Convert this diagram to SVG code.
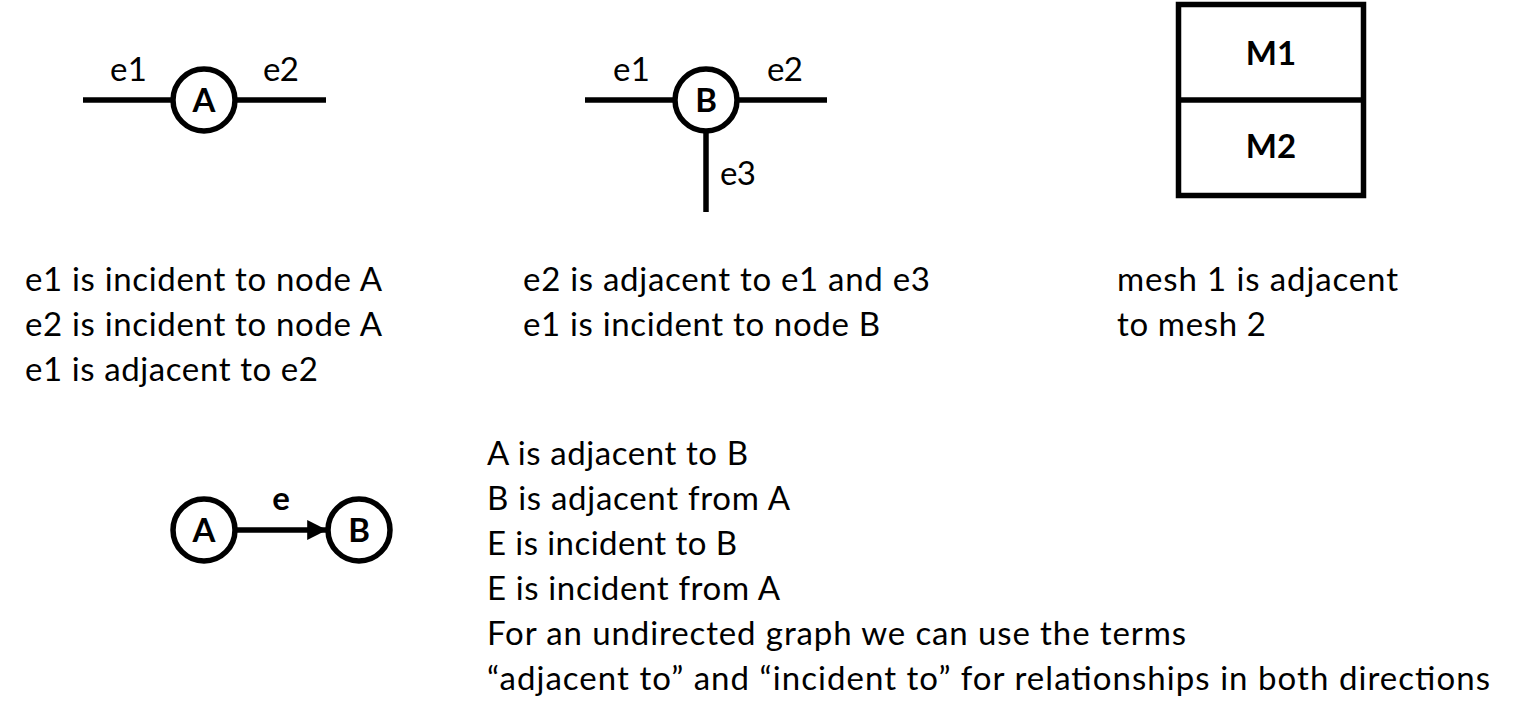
<svg xmlns="http://www.w3.org/2000/svg" width="1516" height="723" viewBox="0 0 1516 723">
<defs>
<style>
.edge{stroke:#000;stroke-width:5.5;fill:none}
.node{fill:#fff;stroke:#000;stroke-width:5.5}
.lbl{font-family:Lato,"Liberation Sans",sans-serif;font-size:33px;fill:#000}
.nl{font-family:Lato,"Liberation Sans",sans-serif;font-size:33px;font-weight:bold;fill:#000;text-anchor:middle}
.txt{font-family:Lato,"Liberation Sans",sans-serif;font-size:33px;fill:#000}
</style>
<marker id="arr" viewBox="0 0 10 10" refX="10" refY="5" markerWidth="3.6" markerHeight="3.6" markerUnits="strokeWidth" orient="auto">
<path d="M0,0 L10,5 L0,10 Z" fill="#000"/>
</marker>
</defs>
<rect width="1516" height="723" fill="#fff"/>
<g id="connectors">
<line class="edge" x1="83" y1="100" x2="172" y2="100"/>
<line class="edge" x1="236" y1="100" x2="326" y2="100"/>
<line class="edge" x1="585" y1="100" x2="674" y2="100"/>
<line class="edge" x1="738" y1="100" x2="827" y2="100"/>
<line class="edge" x1="706" y1="132" x2="706" y2="212"/>
<line class="edge" x1="236" y1="530" x2="327" y2="530" marker-end="url(#arr)"/>
</g>
<g id="edge-labels">
<text class="lbl" x="110" y="81" textLength="37">e1</text>
<text class="lbl" x="263" y="81" textLength="36">e2</text>
<text class="lbl" x="613" y="81" textLength="37">e1</text>
<text class="lbl" x="767" y="81" textLength="36">e2</text>
<text class="lbl" x="720" y="185" textLength="36">e3</text>
<text class="nl" x="281" y="510">e</text>
</g>
<g id="nodeA1"><circle class="node" cx="204" cy="100" r="31"/><text class="nl" x="204" y="112">A</text></g>
<g id="nodeB1"><circle class="node" cx="706" cy="100" r="31"/><text class="nl" x="706" y="112">B</text></g>
<g id="mesh">
<rect class="node" x="1178.5" y="4.5" width="185" height="191"/>
<line class="edge" x1="1178" y1="100" x2="1364" y2="100"/>
<text class="nl" x="1271" y="65">M1</text>
<text class="nl" x="1271" y="158">M2</text>
</g>
<g id="nodeA2"><circle class="node" cx="204" cy="530" r="31"/><text class="nl" x="204" y="542">A</text></g>
<g id="nodeB2"><circle class="node" cx="359" cy="530" r="31"/><text class="nl" x="359" y="542">B</text></g>
<g id="text-left">
<text class="txt" x="25" y="291" textLength="357">e1 is incident to node A</text>
<text class="txt" x="25" y="336" textLength="357">e2 is incident to node A</text>
<text class="txt" x="25" y="381" textLength="293">e1 is adjacent to e2</text>
</g>
<g id="text-middle">
<text class="txt" x="523" y="291" textLength="407">e2 is adjacent to e1 and e3</text>
<text class="txt" x="523" y="336" textLength="357">e1 is incident to node B</text>
</g>
<g id="text-right">
<text class="txt" x="1117" y="291" textLength="281">mesh 1 is adjacent</text>
<text class="txt" x="1117" y="336" textLength="149">to mesh 2</text>
</g>
<g id="text-bottom">
<text class="txt" x="487" y="465" textLength="261">A is adjacent to B</text>
<text class="txt" x="487" y="510" textLength="303">B is adjacent from A</text>
<text class="txt" x="487" y="555" textLength="250">E is incident to B</text>
<text class="txt" x="487" y="600" textLength="293">E is incident from A</text>
<text class="txt" x="487" y="645" textLength="699">For an undirected graph we can use the terms</text>
<text class="txt" x="487" y="690" textLength="1003">“adjacent to” and “incident to” for relationships in both directions</text>
</g>
</svg>
